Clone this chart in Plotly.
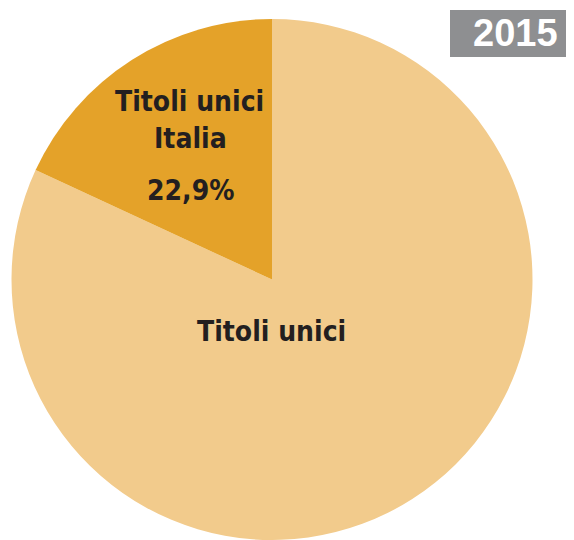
import plotly.graph_objects as go

categories = ["Titoli unici", "Titoli unici Italia"]
values = [81.9, 18.1]
label_lines = ["Titoli unici", "Italia"]
pct_text = "22,9%"
big_label = "Titoli unici"
year_label = "2015"
colors = ["#F2CB8C", "#E4A229"]

fig = go.Figure(go.Pie(
    labels=categories,
    values=values,
    sort=False,
    direction="counterclockwise",
    rotation=0,
    marker=dict(colors=colors, line=dict(width=0)),
    textinfo="none",
    hoverinfo="label+percent",
    showlegend=False,
))

# page body has an 8px margin, so the figure is shifted by 8px; compensate.
# plot area in page pixels: x 11..533, y 19..540
PX0, PX1, PY0, PY1 = 11, 533, 19, 540
def px(x):
    return (x - PX0) / (PX1 - PX0)
def py(y):
    return (PY1 - y) / (PY1 - PY0)

font_fam = "DejaVu Sans Condensed, DejaVu Sans"
txt = "#231F20"
def lab(x, y, s, size=28, color=txt, family=font_fam):
    fig.add_annotation(x=px(x), y=py(y), xref="paper", yref="paper", text=f"<b>{s}</b>",
                       xanchor="center", yanchor="middle",
                       showarrow=False, font=dict(family=family, size=size, color=color))

lab(189, 102, label_lines[0])
lab(190, 138, label_lines[1])
lab(190, 190, pct_text)
lab(271, 331, big_label)

fig.add_shape(type="rect", xref="paper", yref="paper", x0=px(450), x1=px(570),
              y0=py(57), y1=py(10),
              fillcolor="#8E8F91", line=dict(width=0), layer="below")
lab(515, 33, year_label, size=38, color="white", family="Liberation Sans")

fig.update_layout(
    width=566, height=532,
    margin=dict(l=3, r=41, t=11, b=0),
    paper_bgcolor="white", plot_bgcolor="rgba(0,0,0,0)",
)
fig.write_html("out.html")
